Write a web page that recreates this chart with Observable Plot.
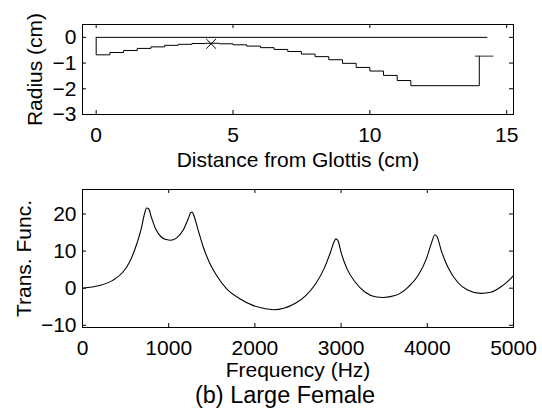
<!DOCTYPE html>
<html><head><meta charset="utf-8">
<script src="https://cdn.jsdelivr.net/npm/d3@7"></script>
<script src="https://cdn.jsdelivr.net/npm/@observablehq/plot@0.6"></script>
<style>
body{margin:0;background:#fff;color:#000;font-family:"Liberation Sans",Arial,sans-serif;}
#wrap{position:relative;width:542px;height:410px;overflow:hidden;}
#top{position:absolute;left:0;top:0}
#bottom{position:absolute;left:0;top:175px}
#caption{position:absolute;left:0;width:570px;top:384px;text-align:center;font-size:23.5px;line-height:1}
svg{overflow:visible}
</style></head>
<body><div id="wrap"><div id="top"></div><div id="bottom"></div><div id="caption">(b) Large Female</div></div>
<script>
// ---- Top panel: vocal tract radius (step profile) ----
const stairX = [0, 0, 0.5, 1.0, 1.5, 2.0, 2.5, 3.0, 3.5, 4.0, 4.5, 5.0, 5.5, 6.0, 6.5, 7.0, 7.5, 8.0, 8.5, 9.0, 9.5, 10.0, 10.5, 11.0, 11.5, 14.0];
const stairR = [0, -0.68, -0.59, -0.51, -0.43, -0.37, -0.31, -0.27, -0.24, -0.23, -0.25, -0.29, -0.34, -0.40, -0.47, -0.55, -0.65, -0.75, -0.87, -1.01, -1.17, -1.31, -1.48, -1.68, -1.88, -0.73];
const axisLineX = [0, 14.28];
const axisLineR = [0, 0];
const lipX = [13.85, 14.5];
const lipR = [-0.73, -0.73];
const markX = [4.2];
const markR = [-0.25];
const topXTicks = [0, 5, 10, 15];
const topYTicks = [0, -1, -2, -3];

// ---- Bottom panel: transfer function ----
const freq = [0,195,350,467,545,623,681,720,743,767,798,848,914,973,1019,1089,1167,1226,1257,1272,1292,1342,1401,1479,1556,1673,1829,1984,2140,2218,2335,2475,2590,2705,2801,2877,2916,2939,2962,3004,3069,3165,3280,3395,3490,3625,3778,3893,3989,4046,4088,4115,4161,4238,4352,4467,4621,4736,4851,4946,5000];
const tf = [0,0.7,2.1,4.3,7.0,11.5,16.0,20.1,21.6,21.4,19.2,16.0,13.8,13.1,12.9,13.5,15.6,18.7,20.4,20.5,19.6,15.6,11.1,6.6,3.4,-0.2,-2.9,-4.7,-5.6,-5.8,-5.4,-4.0,-2.0,1.2,5.2,9.7,12.4,13.3,12.9,9.3,5.2,1.6,-1.1,-2.3,-2.5,-2.0,0.3,3.4,7.9,12.0,14.4,13.8,10.2,5.7,1.6,-0.5,-1.4,-1.1,0.3,2.1,3.4];
const botXTicks = [0, 1000, 2000, 3000, 4000, 5000];
const botYTicks = [-10, 0, 10, 20];

const FONT = "Liberation Sans, Arial, sans-serif";
const zip = (xs, ys) => xs.map((x, i) => ({x, y: ys[i]}));
const fmt = d => (d < 0 ? "\u2212" : "") + String(Math.abs(d));

function innerTicks(xt, yt, iw, ih) {
  const L = 4;
  return [
    Plot.tickX(xt, {x: d => d, insetTop: ih - L, stroke: "black"}),
    Plot.tickX(xt, {x: d => d, insetBottom: ih - L, stroke: "black"}),
    Plot.tickY(yt, {y: d => d, insetRight: iw - L, stroke: "black"}),
    Plot.tickY(yt, {y: d => d, insetLeft: iw - L, stroke: "black"})
  ];
}

// Top
{
  const W = 542, H = 175, mL = 82, mR = 29, mT = 24, mB = 61;
  const iw = W - mL - mR, ih = H - mT - mB;
  const chart = Plot.plot({
    width: W, height: H,
    marginLeft: mL, marginRight: mR, marginTop: mT, marginBottom: mB,
    style: {fontSize: "21px", fontFamily: FONT, color: "black", background: "white", overflow: "visible"},
    x: {domain: [-0.5, 15.25]},
    y: {domain: [-3, 0.5]},
    marks: [
      Plot.frame({stroke: "black"}),
      ...innerTicks(topXTicks, topYTicks, iw, ih),
      Plot.axisX({ticks: topXTicks, tickSize: 0, tickPadding: 13, tickFormat: fmt, label: null}),
      Plot.axisY({ticks: topYTicks, tickSize: 0, tickPadding: 6, tickFormat: fmt, label: null}),
      Plot.line(zip(axisLineX, axisLineR), {x: "x", y: "y", stroke: "black", strokeWidth: 1}),
      Plot.line(zip(stairX, stairR), {x: "x", y: "y", curve: "step-after", stroke: "black", strokeWidth: 1}),
      Plot.line(zip(lipX, lipR), {x: "x", y: "y", stroke: "#333", strokeWidth: 1}),
      Plot.dot(zip(markX, markR), {x: "x", y: "y", symbol: "times", r: 4.5, stroke: "black", strokeWidth: 1}),
      Plot.text(["Distance from Glottis (cm)"], {frameAnchor: "bottom", dy: 46, textAnchor: "middle", lineAnchor: "middle", fontSize: 21}),
      Plot.text(["Radius (cm)"], {frameAnchor: "left", rotate: -90, dx: -47, textAnchor: "middle", lineAnchor: "middle", fontSize: 21})
    ]
  });
  document.getElementById("top").appendChild(chart);
}

// Bottom
{
  const W = 542, H = 200, mL = 82, mR = 29, mT = 14, mB = 48;
  const iw = W - mL - mR, ih = H - mT - mB;
  const chart = Plot.plot({
    width: W, height: H,
    marginLeft: mL, marginRight: mR, marginTop: mT, marginBottom: mB,
    style: {fontSize: "21px", fontFamily: FONT, color: "black", background: "white", overflow: "visible"},
    x: {domain: [0, 5000]},
    y: {domain: [-10.6, 26.6]},
    marks: [
      Plot.frame({stroke: "black"}),
      ...innerTicks(botXTicks, botYTicks, iw, ih),
      Plot.axisX({ticks: botXTicks, tickSize: 0, tickPadding: 13, tickFormat: fmt, label: null}),
      Plot.axisY({ticks: botYTicks, tickSize: 0, tickPadding: 6, tickFormat: fmt, label: null}),
      Plot.line(zip(freq, tf), {x: "x", y: "y", curve: "monotone-x", stroke: "black", strokeWidth: 1.1}),
      Plot.text(["Frequency (Hz)"], {frameAnchor: "bottom", dy: 43, textAnchor: "middle", lineAnchor: "middle", fontSize: 21}),
      Plot.text(["Trans. Func."], {frameAnchor: "left", rotate: -90, dx: -58.5, textAnchor: "middle", lineAnchor: "middle", fontSize: 21})
    ]
  });
  document.getElementById("bottom").appendChild(chart);
}
</script>
</body></html>
